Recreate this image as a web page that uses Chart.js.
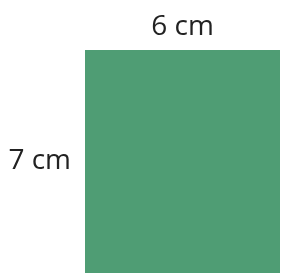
<!DOCTYPE html>
<html>
<head>
<meta charset="utf-8">
<script src="https://cdn.jsdelivr.net/npm/chart.js@4/dist/chart.umd.min.js"></script>
<style>
  body { margin: 0; background: #fff; }
  canvas { display: block; }
</style>
</head>
<body>
<canvas id="rect" width="281" height="273"></canvas>
<script>
// rectangle sides
const widthLabels = ['6 cm'];
const heights = [7];
const heightLabel = '7 cm';

const ctx = document.getElementById('rect');

new Chart(ctx, {
  type: 'bar',
  data: {
    labels: widthLabels,
    datasets: [{
      data: heights,
      backgroundColor: '#4f9d74',
      borderWidth: 0,
      categoryPercentage: 1,
      barPercentage: 1
    }]
  },
  options: {
    responsive: false,
    animation: false,
    devicePixelRatio: 1,
    layout: { padding: { right: 1 } },
    plugins: { legend: { display: false }, tooltip: { enabled: false } },
    scales: {
      x: {
        position: 'top',
        grid: { display: false, drawTicks: false, tickLength: 0 },
        border: { display: false },
        ticks: { color: '#222', font: { family: 'Open Sans', size: 28 }, padding: 6 },
        afterFit: (scale) => {
          scale.height = 50;
          scale.paddingLeft = 0;
          scale.paddingRight = 0;
        }
      },
      y: {
        min: 0,
        max: heights[0],
        grid: { display: false, drawTicks: false, tickLength: 0 },
        border: { display: false },
        afterBuildTicks: (axis) => { axis.ticks = [{ value: heights[0] / 2 }] },
        ticks: {
          color: '#222',
          font: { family: 'Open Sans', size: 28 },
          padding: 14,
          callback: () => heightLabel
        },
        afterFit: (scale) => {
          scale.width = 85;
          scale.paddingTop = 0;
          scale.paddingBottom = 0;
        }
      }
    }
  }
});
</script>
</body>
</html>
